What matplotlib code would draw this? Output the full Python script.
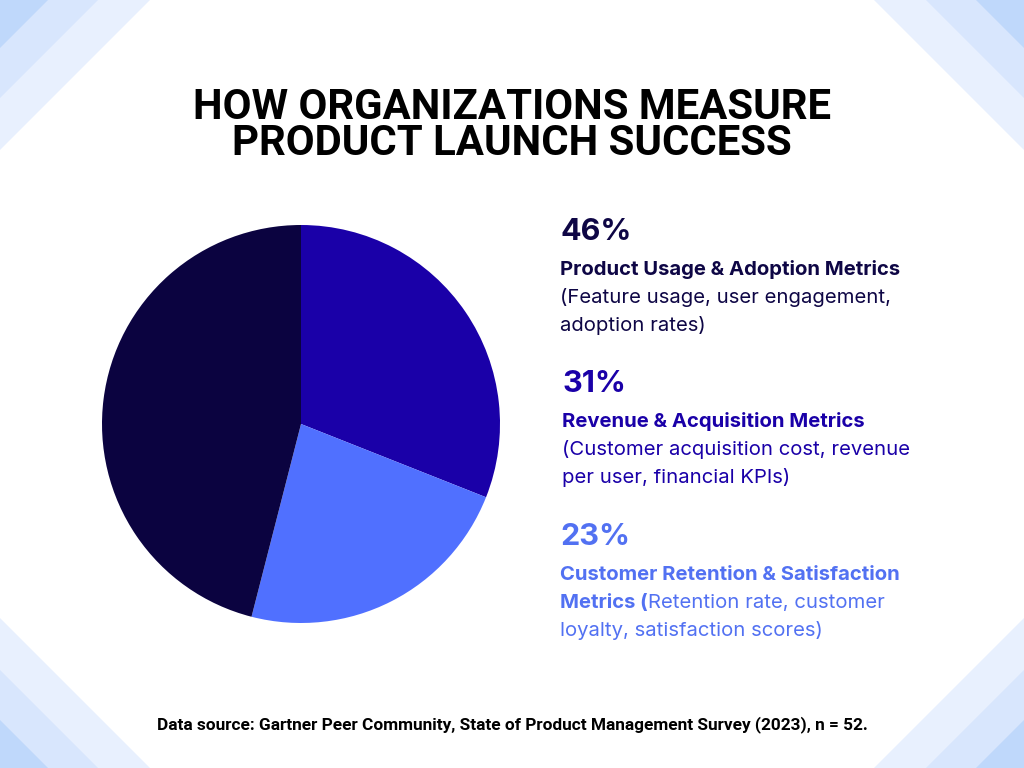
import matplotlib.pyplot as plt
from matplotlib.patches import Polygon

# ---- datos
shares = [31, 23, 46]
slice_colors = ['#1a00a8', '#5070ff', '#0b0340']

pct_labels = ['46%', '31%', '23%']
headings = ['Product Usage & Adoption Metrics',
            'Revenue & Acquisition Metrics',
            'Customer Retention & Satisfaction']
details = [['(Feature usage, user engagement,', 'adoption rates)'],
           ['(Customer acquisition cost, revenue', 'per user, financial KPIs)'],
           ['Retention rate, customer', 'loyalty, satisfaction scores)']]
text_colors = ['#0e0645', '#1a00a8', '#5271f2']

title_lines = ['HOW ORGANIZATIONS MEASURE', 'PRODUCT LAUNCH SUCCESS']
source = 'Data source: Gartner Peer Community, State of Product Management Survey (2023), n = 52.'

W, H = 1024, 768
fig = plt.figure(figsize=(W / 100, H / 100), dpi=100)
fig.patch.set_facecolor('white')

bg = fig.add_axes([0, 0, 1, 1])
bg.set_xlim(0, W)
bg.set_ylim(H, 0)
bg.axis('off')

# ---- esquinas con franjas
band_sizes = [150, 98, 48]
band_colors = ['#e8f0fe', '#d8e6fd', '#bfd8fb']
for L, c in zip(band_sizes, band_colors):
    bg.add_patch(Polygon([(0, 0), (L, 0), (0, L)], color=c, lw=0))
    bg.add_patch(Polygon([(W, 0), (W - L, 0), (W, L)], color=c, lw=0))
    bg.add_patch(Polygon([(0, H), (L, H), (0, H - L)], color=c, lw=0))
    bg.add_patch(Polygon([(W, H), (W - L, H), (W, H - L)], color=c, lw=0))

# ---- titulo (un solo texto de dos lineas)
title_font = ['Roboto', 'DejaVu Sans']
bg.text(512, 155, '\n'.join(title_lines), ha='center', va='baseline',
        multialignment='center', linespacing=0.85, fontsize=30.2,
        fontweight='bold', family=title_font, color='black')

# ---- pastel
cx, cy, r = 301, 424, 199
pax = fig.add_axes([(cx - r) / W, 1 - (cy + r) / H, 2 * r / W, 2 * r / H])
pax.pie(shares, colors=slice_colors, startangle=90, counterclock=False,
        wedgeprops=dict(linewidth=0))
pax.set_xlim(-1, 1)
pax.set_ylim(-1, 1)
pax.axis('off')

# ---- bloques de texto
body_font = ['Inter', 'DejaVu Sans']
fs = 14.6
x0 = [560, 562, 560]
pct_base = [240, 392, 545]
head_base = [275, 427, 580]
line_gap = 28
for i in range(3):
    c = text_colors[i]
    bg.text(x0[i], pct_base[i], pct_labels[i], va='baseline', fontsize=22,
            fontweight='bold', family=body_font, color=c)
    bg.text(x0[i], head_base[i], headings[i], va='baseline', fontsize=fs,
            fontweight='bold', family=body_font, color=c)
    if i < 2:
        for k, line in enumerate(details[i]):
            bg.text(x0[i], head_base[i] + line_gap * (k + 1), line, va='baseline',
                    fontsize=fs, family=body_font, color=c)
    else:
        t = bg.text(x0[i], head_base[i] + line_gap, 'Metrics (', va='baseline',
                    fontsize=fs, fontweight='bold', family=body_font, color=c)
        bg.annotate(details[i][0], xy=(1, 0), xycoords=t, va='bottom',
                    fontsize=fs, family=body_font, color=c)
        bg.text(x0[i], head_base[i] + 2 * line_gap, details[i][1], va='baseline',
                fontsize=fs, family=body_font, color=c)

# ---- fuente
bg.text(512, 729, source, ha='center', va='baseline', fontsize=12.4,
        fontweight='bold', family=title_font, color='black')

fig.savefig('out.png', dpi=100, facecolor='white')
